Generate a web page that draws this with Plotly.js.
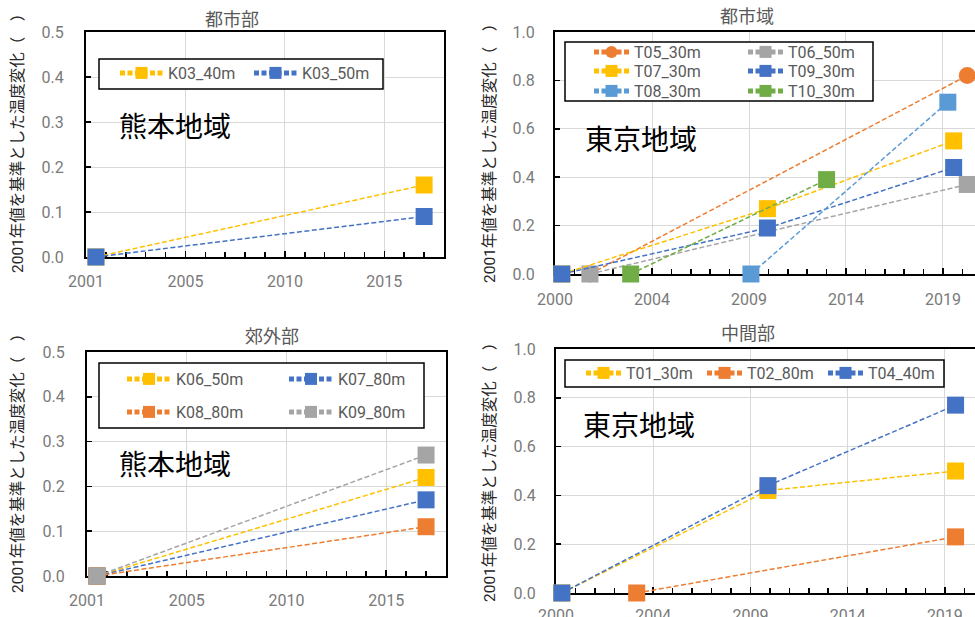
<!DOCTYPE html>
<html><head><meta charset="utf-8">
<script src="https://cdn.plot.ly/plotly-3.0.1.min.js"></script>
<style>
html,body{margin:0;padding:0;background:#fff;overflow:hidden;width:975px;height:617px}
.c{position:absolute}
</style></head><body>
<div id="tl" class="c" style="left:0;top:0;width:478px;height:310px"></div>
<div id="tr" class="c" style="left:478px;top:0;width:497px;height:310px"></div>
<div id="bl" class="c" style="left:0;top:310px;width:478px;height:307px"></div>
<div id="br" class="c" style="left:478px;top:310px;width:497px;height:307px"></div>
<script>
// ---------- data ----------
// 熊本地域 都市部
const kumaUrbanYears = [2000.5, 2017];
const K03_40m = [0, 0.16];
const K03_50m = [0, 0.09];
// 熊本地域 郊外部
const kumaSuburbYears = [2000.5, 2017];
const K06_50m = [0, 0.22];
const K07_80m = [0, 0.17];
const K08_80m = [0, 0.11];
const K09_80m = [0, 0.27];
// 東京地域 都市域
const T05_30m_x = [2001.8, 2021.25]; const T05_30m = [0, 0.82];
const T06_50m_x = [2001.8, 2021.25]; const T06_50m = [0, 0.37];
const T07_30m_x = [2000.35, 2010.95, 2020.55]; const T07_30m = [0, 0.27, 0.55];
const T09_30m_x = [2000.35, 2010.95, 2020.55]; const T09_30m = [0, 0.19, 0.44];
const T08_30m_x = [2010.1, 2020.25]; const T08_30m = [0, 0.71];
const T10_30m_x = [2003.9, 2014.0]; const T10_30m = [0, 0.39];
// 東京地域 中間部
const T01_30m_x = [2000.3, 2010.9, 2020.55]; const T01_30m = [0, 0.42, 0.50];
const T02_80m_x = [2004.15, 2020.55]; const T02_80m = [0, 0.23];
const T04_40m_x = [2000.3, 2010.9, 2020.55]; const T04_40m = [0, 0.44, 0.77];
// tick labels
const kumaTickVals = [2000, 2005, 2010, 2015];
const kumaTickText = ['2001', '2005', '2010', '2015'];
const tokyoTickVals = [2000, 2005, 2010, 2015, 2020];
const tokyoTickText = ['2000', '2004', '2009', '2014', '2019'];
const yTitleText = '2001年値を基準とした温度変化（　）';
const titles = ['都市部', '都市域', '郊外部', '中間部'];
const regions = ['熊本地域', '東京地域'];

// ---------- style ----------
const C = {yellow:'#FFC000', blue:'#4472C4', orange:'#ED7D31', gray:'#A5A5A5', lblue:'#5B9BD5', green:'#70AD47'};
const LATIN = 'Roboto, "Noto Sans CJK JP", sans-serif';
const CJK = '"Noto Sans CJK JP", "Noto Sans", sans-serif';
const TICKC = '#7a7a7a', TEXTC = '#595959';
const LEG_OFF_X = 5;

function build(id, g) {
  const pw = g.W - g.l - g.r, ph = g.H - g.t - g.b;
  const px = v => (v - g.l) / pw;
  const py = v => 1 - (v - g.t) / ph;
  const traces = g.series.map((s, i) => ({
    type: 'scatter', mode: 'lines+markers', name: s.name, x: s.x, y: s.y,
    legend: i === 0 ? 'legend' : 'legend' + (i + 1),
    line: {color: s.color, width: 1.5, dash: '5px,2.5px'},
    marker: {color: s.color, size: 17, symbol: s.symbol || 'square'},
    cliponaxis: false, hoverinfo: 'skip'
  }));
  const layout = {
    width: g.W, height: g.H, margin: {l: g.l, r: g.r, t: g.t, b: g.b, pad: 0},
    paper_bgcolor: '#fff', plot_bgcolor: '#fff', showlegend: true,
    font: {family: LATIN, size: 16, color: TICKC},
    title: {text: g.title, x: g.titleX / g.W, y: 1 - g.titleY / g.H, xref: 'container', yref: 'container',
            xanchor: 'center', yanchor: 'middle', font: {family: CJK, size: 18, color: TEXTC}},
    xaxis: {
      range: g.xRange, tickmode: 'array', tickvals: g.tickVals, ticktext: g.tickText,
      showgrid: true, gridcolor: '#D9D9D9', gridwidth: 1, zeroline: false,
      showline: true, linecolor: '#000', linewidth: 2, mirror: true,
      ticks: 'inside', ticklen: 6, tickwidth: 1.5, tickcolor: '#000',
      minor: {dtick: 1, tick0: 2000, ticks: 'inside', ticklen: 5, tickwidth: 1.5, tickcolor: '#000', showgrid: false},
      tickfont: {family: LATIN, size: 16, color: TICKC}, ticklabelstandoff: g.xStand,
      layer: 'below traces', fixedrange: true
    },
    yaxis: {
      range: g.yRange, dtick: g.yDtick, tick0: 0, tickformat: '.1f',
      showgrid: true, gridcolor: '#D9D9D9', gridwidth: 1, zeroline: false,
      showline: true, linecolor: '#000', linewidth: 2, mirror: g.yMirror,
      ticks: 'inside', ticklen: 5, tickwidth: 1.5, tickcolor: '#000',
      tickfont: {family: LATIN, size: 16, color: TICKC}, ticklabelstandoff: g.yStand,
      layer: 'below traces', fixedrange: true
    },
    shapes: [{type: 'rect', xref: 'paper', yref: 'paper', layer: 'above',
      x0: px(g.frame[0]), x1: px(g.frame[1]), y0: py(g.frame[2]), y1: py(g.frame[3]),
      line: {color: '#000', width: 1.5}, fillcolor: '#fff'}],
    annotations: [
      {text: yTitleText, xref: 'paper', yref: 'paper', x: px(g.yTitle[0]), y: py(g.yTitle[1]),
       xanchor: 'center', yanchor: 'middle', textangle: -90, showarrow: false,
       font: {family: LATIN, size: 15.5, color: '#262626'}},
      {text: g.region, xref: 'paper', yref: 'paper', x: px(g.regionPos[0]), y: py(g.regionPos[1]),
       xanchor: 'center', yanchor: 'middle', showarrow: false,
       font: {family: CJK, size: 28, color: '#000'}}
    ]
  };
  g.entries.forEach((e, i) => {
    const key = i === 0 ? 'legend' : 'legend' + (i + 1);
    layout[key] = {x: px(e[0] - LEG_OFF_X), y: py(e[1]), xanchor: 'left', yanchor: 'middle',
      orientation: 'h', bgcolor: 'rgba(0,0,0,0)', borderwidth: 0, itemwidth: g.itemwidth,
      itemsizing: 'constant', itemclick: false, itemdoubleclick: false,
      font: {family: LATIN, size: 16, color: TEXTC}};
  });
  Plotly.newPlot(id, traces, layout, {staticPlot: true, displayModeBar: false});
}

build('tl', {
  W: 478, H: 310, l: 86, r: 34, t: 32, b: 53,
  xRange: [2000, 2018], tickVals: kumaTickVals, tickText: kumaTickText,
  yRange: [0, 0.5], yDtick: 0.1, yMirror: true, xStand: 9, yStand: 17,
  title: titles[0], titleX: 232, titleY: 20,
  yTitle: [18, 140], region: regions[0], regionPos: [175, 125],
  frame: [99, 383, 59, 89], itemwidth: 43,
  entries: [[120, 73], [254, 73]],
  series: [
    {name: 'K03_40m', x: kumaUrbanYears, y: K03_40m, color: C.yellow},
    {name: 'K03_50m', x: kumaUrbanYears, y: K03_50m, color: C.blue}
  ]
});

build('tr', {
  W: 497, H: 310, l: 77, r: 0, t: 32, b: 36,
  xRange: [2000, 2021.65], tickVals: tokyoTickVals, tickText: tokyoTickText,
  yRange: [0, 1.0], yDtick: 0.2, yMirror: false, xStand: 10, yStand: 15,
  title: titles[1], titleX: 269, titleY: 17,
  yTitle: [12, 150], region: regions[1], regionPos: [163, 138],
  frame: [87, 395, 42, 101], itemwidth: 35,
  entries: [[116, 52], [270, 52], [116, 71], [270, 71], [116, 91], [270, 91]],
  series: [
    {name: 'T05_30m', x: T05_30m_x, y: T05_30m, color: C.orange, symbol: 'circle'},
    {name: 'T06_50m', x: T06_50m_x, y: T06_50m, color: C.gray},
    {name: 'T07_30m', x: T07_30m_x, y: T07_30m, color: C.yellow},
    {name: 'T09_30m', x: T09_30m_x, y: T09_30m, color: C.blue},
    {name: 'T08_30m', x: T08_30m_x, y: T08_30m, color: C.lblue},
    {name: 'T10_30m', x: T10_30m_x, y: T10_30m, color: C.green}
  ]
});

build('bl', {
  W: 478, H: 307, l: 87, r: 32, t: 42, b: 41,
  xRange: [2000, 2018], tickVals: kumaTickVals, tickText: kumaTickText,
  yRange: [0, 0.5], yDtick: 0.1, yMirror: true, xStand: 9, yStand: 17,
  title: titles[2], titleX: 272, titleY: 27,
  yTitle: [18, 150], region: regions[0], regionPos: [175, 153],
  frame: [99, 424, 53, 118], itemwidth: 44,
  entries: [[127, 69], [289, 69], [127, 102], [289, 102]],
  series: [
    {name: 'K06_50m', x: kumaSuburbYears, y: K06_50m, color: C.yellow},
    {name: 'K07_80m', x: kumaSuburbYears, y: K07_80m, color: C.blue},
    {name: 'K08_80m', x: kumaSuburbYears, y: K08_80m, color: C.orange},
    {name: 'K09_80m', x: kumaSuburbYears, y: K09_80m, color: C.gray}
  ]
});

build('br', {
  W: 497, H: 307, l: 78, r: 0, t: 39, b: 24,
  xRange: [2000, 2021.55], tickVals: tokyoTickVals, tickText: tokyoTickText,
  yRange: [0, 1.0], yDtick: 0.2, yMirror: false, xStand: 7, yStand: 15,
  title: titles[3], titleX: 270, titleY: 24,
  yTitle: [12, 159], region: regions[1], regionPos: [161, 114],
  frame: [87, 466, 50, 77], itemwidth: 35,
  entries: [[108, 63], [229, 63], [350, 63]],
  series: [
    {name: 'T01_30m', x: T01_30m_x, y: T01_30m, color: C.yellow},
    {name: 'T02_80m', x: T02_80m_x, y: T02_80m, color: C.orange},
    {name: 'T04_40m', x: T04_40m_x, y: T04_40m, color: C.blue}
  ]
});
</script>
</body></html>
